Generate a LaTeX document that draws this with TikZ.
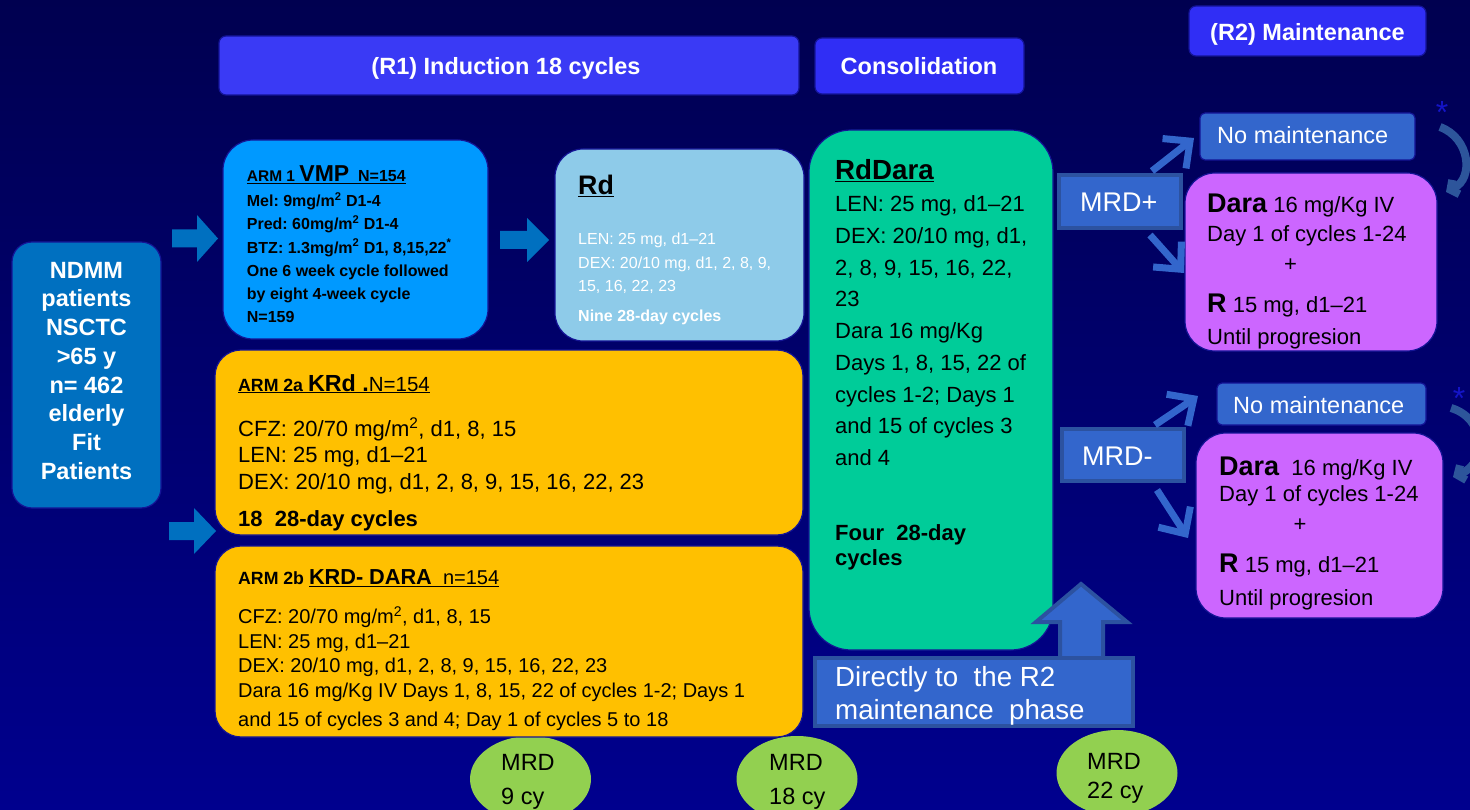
\documentclass[tikz,border=0pt]{standalone}
\usepackage{fontspec}
\setmainfont{Liberation Sans}
\frenchspacing
\usetikzlibrary{arrows.meta,shapes.geometric,fit}
\newcommand\myfs[2]{\fontsize{#1pt}{#2pt}\selectfont}
\definecolor{bgtop}{RGB}{0,0,80}
\definecolor{bgbot}{RGB}{0,0,142}
\definecolor{hdrA}{RGB}{58,58,245}
\definecolor{hdrB}{RGB}{48,46,245}
\definecolor{ndmmc}{RGB}{0,112,192}
\definecolor{vmpc}{RGB}{0,153,255}
\definecolor{rdc}{RGB}{142,203,233}
\definecolor{krdc}{RGB}{255,192,0}
\definecolor{rddc}{RGB}{0,204,153}
\definecolor{purp}{RGB}{204,102,255}
\definecolor{midb}{RGB}{51,102,204}
\definecolor{midbd}{RGB}{44,82,160}
\definecolor{curvc}{RGB}{45,85,155}
\definecolor{mrdg}{RGB}{146,208,80}
\definecolor{outl}{RGB}{20,20,150}
\definecolor{starc}{RGB}{20,20,200}
\tikzset{
  bx/.style={draw=outl, line width=1.2pt, inner sep=0pt, rounded corners=#1},
  bx/.default=20pt,
  tx/.style={anchor=base west, inner sep=0pt, align=flush left, text width=#1},
  tx/.default=700pt,
  ctx/.style={anchor=base, inner sep=0pt},
  blockarr/.style={fill=ndmmc},
  thinarr/.style={draw=midb, line width=7pt, -{Straight Barb[length=20pt,width=38pt]}},
  curvarr/.style={draw=curvc, line width=8pt, -{Straight Barb[length=6pt,width=16pt]}},
  mrdbox/.style={fill=midb, draw=midbd, line width=4pt, inner sep=0pt},
  ell/.style={ellipse, fill=mrdg, minimum width=121pt, minimum height=86pt, inner sep=0pt},
}
\begin{document}
\begin{tikzpicture}[x=1pt,y=-1pt]
\useasboundingbox (0,0) rectangle (1470,810);
\clip (0,0) rectangle (1470,810);
\fill[top color=bgtop, bottom color=bgbot] (0,0) rectangle (1470,810);

% MRD ellipses (behind)
\node[ell] (e1) at (530.5,779) {};
\node[ell] (e2) at (797,779) {};
\node[ell] (e3) at (1117,773) {};

% headers
\node[bx=7pt, fill=hdrA, fit={(219,36) (799,95)}] (hind) {};
\node[bx=7pt, fill=hdrB, fit={(815,38) (1024,94)}] (hcon) {};
\node[bx=7pt, fill=hdrB, fit={(1189,6) (1426,56)}] (hmain) {};
\node[ctx, text=white, font=\bfseries\myfs{23.5}{28}] (thind) at (506,75) {(R1) Induction 18 cycles};
\node[ctx, text=white, font=\bfseries\myfs{23.5}{28}] (thcon) at (919,75) {Consolidation};
\node[ctx, text=white, font=\bfseries\myfs{23.5}{28}] (thmain) at (1307.5,41) {(R2) Maintenance};

% boxes
\node[bx=20pt, fill=ndmmc, fit={(12,242) (161,508)}] (ndmm) {};
\node[bx=30pt, fill=vmpc, fit={(223,140) (488,339)}] (vmp) {};
\node[bx=28pt, fill=rdc, fit={(555,149) (804,341)}] (rd) {};
\node[bx=26pt, fill=krdc, fit={(215,350) (803,535)}] (krd) {};
\node[bx=26pt, fill=krdc, fit={(215,546) (803,737)}] (krdd) {};
\node[bx=42pt, fill=rddc, fit={(809,130) (1053,650)}] (rdd) {};
\node[bx=30pt, fill=purp, fit={(1185,173) (1437,351)}] (dp) {};
\node[bx=30pt, fill=purp, fit={(1196,433) (1443,618)}] (dm) {};
\node[bx=5pt, fill=midb, fit={(1200,113) (1415,160)}] (nm1) {};
\node[bx=5pt, fill=midb, fit={(1217,383) (1426,425)}] (nm2) {};
\node[mrdbox, fit={(1059,175) (1181,228)}] (mrdp) {};
\node[mrdbox, fit={(1062,429) (1184,481)}] (mrdm) {};

% block arrows
\fill[blockarr] (172,229.5) -- (197,229.5) -- (197,215) -- (218,238.5) -- (197,262) -- (197,247.5) -- (172,247.5) -- cycle;
\fill[blockarr] (169,522) -- (194,522) -- (194,508) -- (216,531) -- (194,554) -- (194,540) -- (169,540) -- cycle;
\fill[blockarr] (500,231) -- (527,231) -- (527,218) -- (549,240) -- (527,262) -- (527,249) -- (500,249) -- cycle;

% up arrow and direct box
\filldraw[fill=midb, draw=midbd, line width=4pt, line join=miter] (1060,658) -- (1060,622) -- (1036,622) -- (1081,584) -- (1127,622) -- (1103,622) -- (1103,658) -- cycle;
\node[mrdbox, fit={(815,658) (1133,726)}] (direct) {};

% thin arrows
\coordinate (ap1s) at (1152,171); \coordinate (ap1e) at (1194,138);
\coordinate (ap2s) at (1150,235); \coordinate (ap2e) at (1184,273);
\coordinate (am1s) at (1155,425); \coordinate (am1e) at (1198,396);
\coordinate (am2s) at (1157,490); \coordinate (am2e) at (1188,538);
\draw[thinarr] (ap1s) -- (ap1e);
\draw[thinarr] (ap2s) -- (ap2e);
\draw[thinarr] (am1s) -- (am1e);
\draw[thinarr] (am2s) -- (am2e);

% curved arrows and stars
\coordinate (c1s) at (1440,127); \coordinate (c1e) at (1446,192);
\draw[curvarr] (c1s) .. controls (1470,138) and (1474,178) .. (c1e);
\coordinate (c2s) at (1451,408); \coordinate (c2e) at (1453,477);
\draw[curvarr] (c2s) .. controls (1485,418) and (1488,462) .. (c2e);
\node[text=starc, font=\myfs{32}{32}, inner sep=0pt] (st1) at (1442,112) {*};
\node[text=starc, font=\myfs{32}{32}, inner sep=0pt] (st2) at (1459,398) {*};

% texts
\node[anchor=base, inner sep=0pt, align=flush center, text width=148pt, text=white, font=\bfseries\myfs{23.5}{28.7}] (tndmm) at (86.5,278.3) {NDMM\\patients\\NSCTC\\>65 y\\n= 462\\elderly\\Fit\\Patients};

\node[tx, font=\bfseries] (tvmp) at (246.7,181.7) {\underline{\myfs{15.5}{18}ARM 1 \myfs{23}{26}VMP\myfs{16}{18}\ \ N=154}};
\node[tx, font=\bfseries\myfs{16}{23.2}] (bvmp) at (246.7,206.7) {Mel: 9mg/m\textsuperscript{2} D1-4\\Pred: 60mg/m\textsuperscript{2} D1-4\\BTZ: 1.3mg/m\textsuperscript{2} D1, 8,15,22\textsuperscript{*}\\One 6 week cycle followed\\by eight 4-week cycle\\N=159};

\node[tx, font=\bfseries\myfs{26.8}{30}] (trd) at (578,195) {\underline{Rd}};
\node[tx, text=white, font=\myfs{16}{23.3}] (brd) at (578,245) {LEN: 25 mg, d1--21\\DEX: 20/10 mg, d1, 2, 8, 9,\\15, 16, 22, 23\\[6.7pt]\textbf{Nine 28-day cycles}};

\node[tx, font=\bfseries] (tkrd) at (238,391) {\underline{\myfs{17.7}{20}ARM 2a \myfs{23.3}{26}KRd .\mdseries\myfs{20.5}{24}N=154}};
\node[tx, font=\myfs{22}{26.5}] (bkrd) at (238,436) {CFZ: 20/70 mg/m\textsuperscript{2}, d1, 8, 15\\LEN: 25 mg, d1--21\\DEX: 20/10 mg, d1, 2, 8, 9, 15, 16, 22, 23\\[11pt]\textbf{18\ \ 28-day cycles}};

\node[tx, font=\bfseries] (tkrdd) at (238,584.5) {{\myfs{17.7}{20}ARM 2b }\underline{\myfs{21.7}{24}KRD- DARA\mdseries\myfs{20}{24}\ \ n=154}};
\node[tx, font=\myfs{20}{24.5}] (bkrdd) at (238,623.7) {CFZ: 20/70 mg/m\textsuperscript{2}, d1, 8, 15\\LEN: 25 mg, d1--21\\DEX: 20/10 mg, d1, 2, 8, 9, 15, 16, 22, 23\\Dara 16 mg/Kg IV Days 1, 8, 15, 22 of cycles 1-2; Days 1\\[5pt]and 15 of cycles 3 and 4; Day 1 of cycles 5 to 18};

\node[tx, font=\bfseries\myfs{27.7}{30}] (trdd) at (835,179.3) {\underline{RdDara}};
\node[tx, font=\myfs{22}{31.75}] (brdd) at (835,211.7) {LEN: 25 mg, d1--21\\DEX: 20/10 mg, d1,\\2, 8, 9, 15, 16, 22,\\23\\Dara 16 mg/Kg\\Days 1, 8, 15, 22 of\\cycles 1-2; Days 1\\and 15 of cycles 3\\and 4};
\node[tx, font=\bfseries\myfs{22}{24.3}] (frdd) at (835,540.7) {Four\ \ 28-day\\cycles};

\node[tx, text=white, font=\myfs{27}{30}] (tmrdp) at (1080,211.7) {MRD+};
\node[tx, text=white, font=\myfs{27}{30}] (tmrdm) at (1082,465) {MRD-};
\node[tx, text=white, font=\myfs{23.5}{28}] (tnm1) at (1217,143.3) {No maintenance};
\node[tx, text=white, font=\myfs{23.5}{28}] (tnm2) at (1233,413.3) {No maintenance};

\node[tx, font=\myfs{22}{30}] (tdp) at (1207,212.7) {{\bfseries\myfs{27}{30}Dara} 16 mg/Kg IV\\[-1pt]Day 1 of cycles 1-24\\\hspace*{77pt}+\\[11pt]{\bfseries\myfs{27}{30}R} 15 mg, d1--21\\[2.3pt]Until progresion};
\node[tx, font=\myfs{22}{30}] (tdm) at (1219,475) {{\bfseries\myfs{27}{30}Dara}\ \ 16 mg/Kg IV\\[-3.3pt]Day 1 of cycles 1-24\\\hspace*{74.5pt}+\\[11pt]{\bfseries\myfs{27}{30}R} 15 mg, d1--21\\[2.3pt]Until progresion};

\node[tx, text=white, font=\myfs{27.7}{33.3}] (tdir) at (835,686) {Directly to\ \ the R2\\maintenance\ \ phase};

\node[tx, font=\myfs{23.5}{34}] (te1) at (501,770) {MRD\\9 cy};
\node[tx, font=\myfs{23.5}{34}] (te2) at (769,770) {MRD\\18 cy};
\node[tx, font=\myfs{23.5}{29}] (te3) at (1087,769) {MRD\\22 cy};
\end{tikzpicture}
\end{document}
